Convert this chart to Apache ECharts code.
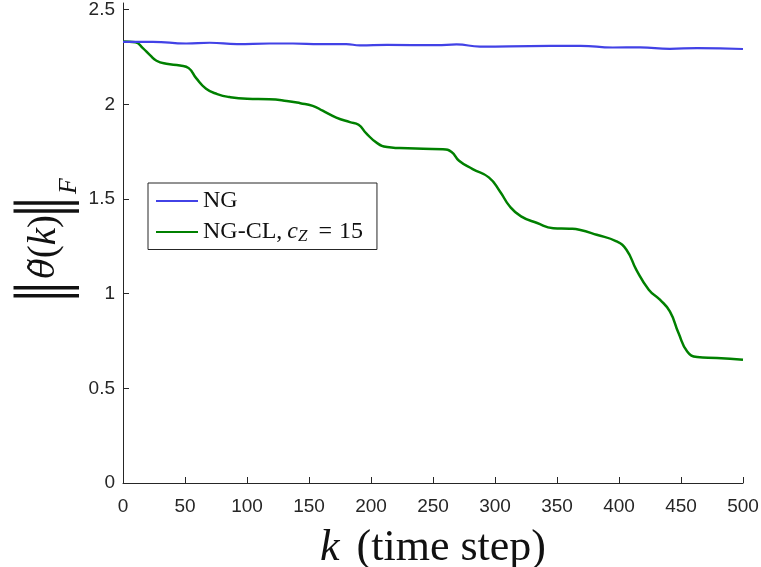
<!DOCTYPE html>
<html>
<head>
<meta charset="utf-8">
<script src="https://cdn.jsdelivr.net/npm/echarts@6/dist/echarts.min.js"></script>
<style>
  html, body { margin: 0; padding: 0; background: #fff; }
  #chart { width: 761px; height: 567px; }
</style>
</head>
<body>
<div id="chart"></div>
<script>
// Parameter error norm over time: plain NG vs. NG with concurrent learning
const kNG = [0, 24, 51, 70, 92, 118, 137, 159, 180, 191, 213, 253, 269, 288, 328, 369, 395, 417, 441, 463, 500];
const normNG = [2.330, 2.330, 2.321, 2.325, 2.318, 2.321, 2.321, 2.318, 2.318, 2.311, 2.314, 2.312, 2.316, 2.305, 2.307, 2.309, 2.300, 2.301, 2.293, 2.297, 2.292];

const kCL = [0, 10, 16, 22, 27, 35, 46, 53, 59, 67, 76, 86, 100, 118, 132, 143, 153, 161, 172, 183, 190, 196, 205, 213, 223, 242, 258, 265, 271, 282, 295, 304, 312, 321, 334, 347, 360, 368, 382, 398, 406, 414, 424, 433, 441, 448, 455, 463, 479, 500];
const normCL = [2.332, 2.328, 2.297, 2.258, 2.230, 2.214, 2.205, 2.191, 2.138, 2.082, 2.054, 2.038, 2.029, 2.027, 2.018, 2.006, 1.992, 1.966, 1.930, 1.906, 1.892, 1.848, 1.795, 1.774, 1.769, 1.765, 1.763, 1.748, 1.702, 1.658, 1.614, 1.540, 1.460, 1.408, 1.373, 1.346, 1.343, 1.337, 1.311, 1.276, 1.232, 1.126, 1.021, 0.968, 0.906, 0.792, 0.695, 0.665, 0.660, 0.651];

const xTicks = [0, 50, 100, 150, 200, 250, 300, 350, 400, 450, 500];
const yTicks = [0, 0.5, 1, 1.5, 2, 2.5];

const seriesNames = ['NG', 'NG-CL'];

const axisColor = '#262626';
const inkColor = '#111111';
const serif = '"Liberation Serif", "DejaVu Serif", serif';
const sans = '"Liberation Sans", Arial, sans-serif';

const chart = echarts.init(document.getElementById('chart'), null, { renderer: 'canvas' });

chart.setOption({
  animation: false,
  backgroundColor: '#ffffff',
  grid: { left: 123, right: 18, top: 3, bottom: 84, containLabel: false, outerBoundsMode: 'none' },
  legend: {
    orient: 'vertical',
    left: 148,
    top: 183,
    padding: [6, 14, 4, 7],
    itemGap: 7,
    itemWidth: 42,
    itemHeight: 14,
    itemStyle: { opacity: 0 },
    backgroundColor: '#ffffff',
    borderColor: axisColor,
    borderWidth: 1,
    borderRadius: 0,
    data: seriesNames,
    formatter: function (name) {
      if (name === 'NG-CL') return 'NG-CL,{gap| }{it|c}{sub|Z}{eq|=}{t|15}';
      return name;
    },
    textStyle: {
      fontFamily: serif,
      fontSize: 24,
      color: inkColor,
      rich: {
        gap: { fontFamily: serif, fontSize: 24, color: inkColor, width: 5 },
        it: { fontFamily: serif, fontStyle: 'italic', fontSize: 24, color: inkColor },
        sub: { fontFamily: serif, fontStyle: 'italic', fontSize: 17, color: inkColor, verticalAlign: 'bottom', lineHeight: 27 },
        eq: { fontFamily: serif, fontSize: 24, color: inkColor, padding: [0, 7, 0, 11] },
        t: { fontFamily: serif, fontSize: 24, color: inkColor }
      }
    }
  },
  xAxis: {
    type: 'value',
    min: 0,
    max: 500,
    interval: 50,
    name: '{k|k} (time step)',
    nameLocation: 'middle',
    nameGap: 43,
    nameMoveOverlap: false,
    nameTextStyle: {
      fontFamily: serif,
      fontSize: 44,
      color: inkColor,
      rich: {
        k: { fontFamily: serif, fontStyle: 'italic', fontSize: 44, color: inkColor, padding: [0, 6, 0, 0] }
      }
    },
    axisLine: { show: true, onZero: false, lineStyle: { color: axisColor, width: 1 } },
    axisTick: { show: true, inside: true, length: 6, customValues: xTicks, lineStyle: { color: axisColor } },
    axisLabel: { customValues: xTicks, margin: 14, fontFamily: sans, fontSize: 19, color: axisColor },
    splitLine: { show: false }
  },
  yAxis: {
    type: 'value',
    min: 0,
    max: 2.535,
    name: '{bar||}{bar||}{th|θ̃}{p|(}{k|k}{p|)}{bar||}{bar||}{sub|F}',
    nameLocation: 'middle',
    nameRotate: 90,
    nameGap: 41,
    nameMoveOverlap: false,
    nameTextStyle: {
      color: inkColor,
      padding: [0, 0, 0, 8],
      rich: {
        bar: { fontFamily: '"Liberation Serif", serif', fontSize: 72, color: inkColor, lineHeight: 74, width: 8 },
        th: { fontFamily: '"DejaVu Serif", serif', fontStyle: 'italic', fontSize: 34, color: inkColor, padding: [0, 0, 0, 5] },
        p: { fontFamily: serif, fontSize: 39, color: inkColor },
        k: { fontFamily: serif, fontStyle: 'italic', fontSize: 39, color: inkColor },
        sub: { fontFamily: serif, fontStyle: 'italic', fontSize: 26, color: inkColor, verticalAlign: 'bottom', lineHeight: 74, padding: [0, 0, 0, 5] }
      }
    },
    axisLine: { show: true, onZero: false, lineStyle: { color: axisColor, width: 1 } },
    axisTick: { show: true, inside: true, length: 6, customValues: yTicks, lineStyle: { color: axisColor } },
    axisLabel: { customValues: yTicks, margin: 8, padding: [3, 0, 0, 0], fontFamily: sans, fontSize: 19, color: axisColor },
    splitLine: { show: false }
  },
  series: [
    {
      name: 'NG',
      type: 'line',
      data: kNG.map((k, i) => [k, normNG[i]]),
      symbol: 'none',
      smooth: 0.5,
      lineStyle: { color: '#4242e6', width: 2.2 },
      itemStyle: { color: '#4242e6' },
      z: 3
    },
    {
      name: 'NG-CL',
      type: 'line',
      data: kCL.map((k, i) => [k, normCL[i]]),
      symbol: 'none',
      smooth: 0.5,
      lineStyle: { color: '#008000', width: 2.5 },
      itemStyle: { color: '#008000' },
      z: 2
    }
  ]
});
</script>
</body>
</html>
